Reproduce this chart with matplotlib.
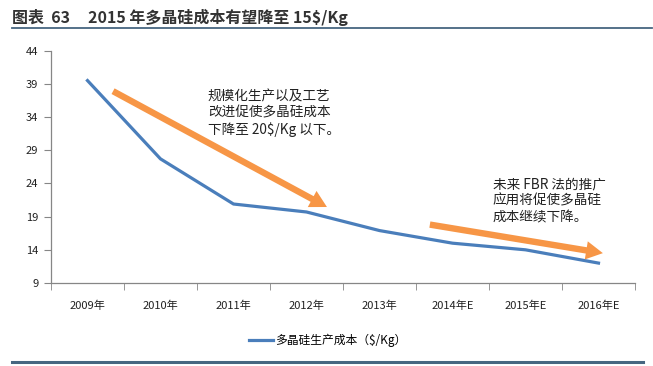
import matplotlib
matplotlib.use("Agg")
import matplotlib.pyplot as plt
from matplotlib.lines import Line2D

plt.rcParams['font.family'] = ['Noto Sans CJK SC', 'DejaVu Sans']

# ---- data ----
categories = ["2009年", "2010年", "2011年", "2012年", "2013年", "2014年E", "2015年E", "2016年E"]
cost = [39.5, 27.7, 20.9, 19.7, 16.9, 15.0, 14.0, 12.0]
series_name = "多晶硅生产成本（$/Kg）"
yticks = [9, 14, 19, 24, 29, 34, 39, 44]
title = "图表  63     2015 年多晶硅成本有望降至 15$/Kg"

note1 = "规模化生产以及工艺\n改进促使多晶硅成本\n下降至 20$/Kg 以下。"
note2 = "未来 FBR 法的推广\n应用将促使多晶硅\n成本继续下降。"
arrow1_start = (0.35, 37.9)
arrow1_end = (3.28, 20.45)
arrow2_start = (4.69, 17.8)
arrow2_end = (7.06, 13.5)
note1_pos = (1.65, 38.2)
note2_pos = (5.55, 24.9)

BLUE = '#4A7EBB'
ORANGE = '#F79646'
AXIS = '#868686'

fig = plt.figure(figsize=(6.53, 3.66), dpi=100)
ax = fig.add_axes([51/653, 1-283/366, (635-51)/653, (283-50.7)/366])

x = list(range(len(categories)))
ax.plot(x, cost, color=BLUE, lw=2.3, solid_joinstyle='round', zorder=3)

ax.set_xlim(-0.5, len(categories)-0.5)
ax.set_ylim(9, 44)
ax.set_yticks(yticks)
ax.set_xticks(x)
ax.set_xticklabels(categories, fontsize=8, color='#222222')
ax.set_xticks([i + 0.5 for i in range(-1, len(categories))], minor=True)
ax.tick_params(axis='x', which='major', length=0, pad=13)
ax.tick_params(axis='x', which='minor', length=5, color=AXIS, direction='out')
ax.tick_params(axis='y', length=5, color=AXIS, labelsize=8, labelcolor='#222222', pad=4)
for s in ['top', 'right']:
    ax.spines[s].set_visible(False)
for s in ['left', 'bottom']:
    ax.spines[s].set_color(AXIS)
    ax.spines[s].set_linewidth(0.9)

arrow_style = 'simple,tail_width=0.42,head_width=1.2,head_length=1.1'
for st, en in [(arrow1_start, arrow1_end), (arrow2_start, arrow2_end)]:
    ax.annotate('', xy=en, xytext=st,
                arrowprops=dict(arrowstyle=arrow_style, color=ORANGE, lw=0,
                                mutation_scale=11, shrinkA=0, shrinkB=0),
                zorder=4)

ax.text(*note1_pos, note1, fontsize=9.8, va='top', ha='left', color='#222222', linespacing=1.22)
ax.text(*note2_pos, note2, fontsize=9.8, va='top', ha='left', color='#222222', linespacing=1.22)

# title and rules
fig.text(12/653, 1-17/366, title, fontsize=11.5, fontweight='bold', va='center', ha='left', color='#333333')
fig.add_artist(Line2D([12/653, 652/653], [1-28/366, 1-28/366], color='#466680', lw=1.3))
fig.add_artist(Line2D([12/653, 643/653], [1-362/366, 1-362/366], color='#466680', lw=2.2))

handle = Line2D([], [], color=BLUE, lw=2.3)
fig.legend([handle], [series_name], loc='center', bbox_to_anchor=(328/653, 1-340/366),
           frameon=False, fontsize=8.5, handlelength=2.0, handletextpad=0.2)

fig.savefig('out.png', dpi=100)
